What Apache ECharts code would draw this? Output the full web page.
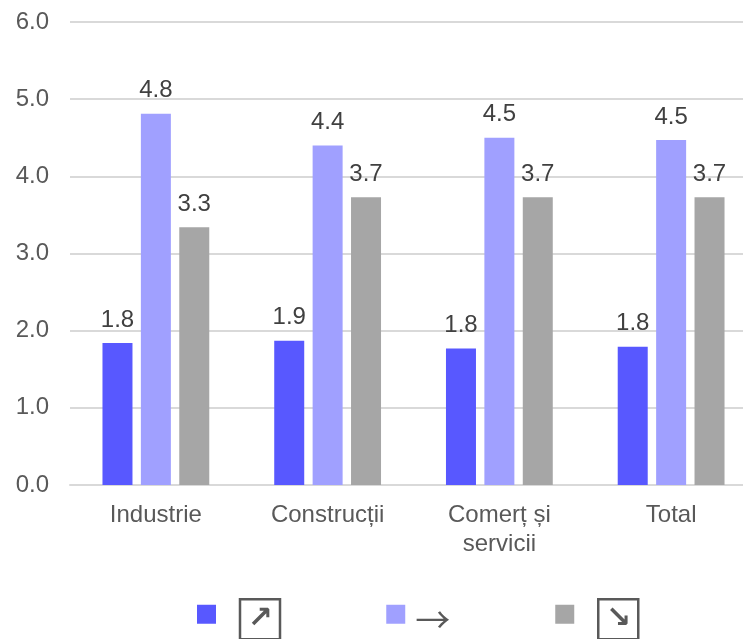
<!DOCTYPE html>
<html>
<head>
<meta charset="utf-8">
<script src="https://cdn.jsdelivr.net/npm/echarts@6/dist/echarts.min.js"></script>
<style>html,body{margin:0;padding:0;background:#fff;overflow:hidden;}#c{width:757px;height:639px;}</style>
</head>
<body>
<div id="c"></div>
<script>
const categories = ['Industrie', 'Construcții', 'Comerț și\nservicii', 'Total'];
const seriesNames = ['↗', '→', '↘'];
const upValues = [1.84, 1.87, 1.77, 1.79];
const flatValues = [4.81, 4.40, 4.50, 4.47];
const downValues = [3.34, 3.73, 3.73, 3.73];
const yTicks = { min: 0, max: 6, interval: 1 };

const colors = ['#5858FF', '#A0A0FF', '#A6A6A6'];
const FONT = '"Liberation Sans", Arial, sans-serif';

const chart = echarts.init(document.getElementById('c'), null, { renderer: 'canvas' });

function mkSeries(name, data, color) {
  return {
    name: name,
    type: 'bar',
    data: data,
    barWidth: 30,
    barGap: '28%',
    itemStyle: { color: color },
    label: {
      show: true,
      position: 'top',
      distance: 11,
      color: '#404040',
      fontSize: 24,
      fontFamily: FONT,
      formatter: p => p.value.toFixed(1)
    }
  };
}

chart.setOption({
  animation: false,
  grid: { left: 70, top: 22, right: 0, bottom: 154, containLabel: false },
  legend: {
    left: 197,
    top: 598,
    padding: 0,
    itemWidth: 19,
    itemHeight: 19,
    itemGap: 105,
    icon: 'rect',
    data: seriesNames,
    formatter: function (name) {
      if (name === '→') return '{sp2|}{arr|' + name + '}';
      return '{sp|}{box|' + name + '}';
    },
    textStyle: {
      fontFamily: FONT,
      color: '#595959',
      padding: [10, 0, 0, 0],
      rich: {
        sp: { width: 19 },
        sp2: { width: 5 },
        box: {
          width: 40, height: 40, lineHeight: 40, align: 'center',
          borderColor: '#595959', borderWidth: 2.5,
          fontSize: 30, fontWeight: 'bold', fontFamily: '"DejaVu Sans"', color: '#595959'
        },
        arr: { fontSize: 35, fontFamily: '"Noto Sans CJK SC"', color: '#595959' }
      }
    }
  },
  xAxis: {
    type: 'category',
    data: categories,
    axisTick: { show: false },
    axisLine: { lineStyle: { color: '#D9D9D9', width: 2 } },
    axisLabel: { color: '#595959', fontSize: 24, fontFamily: FONT, margin: 16, lineHeight: 29, interval: 0 }
  },
  yAxis: {
    type: 'value',
    min: yTicks.min,
    max: yTicks.max,
    interval: yTicks.interval,
    axisLine: { show: false },
    axisTick: { show: false },
    splitLine: { lineStyle: { color: '#D9D9D9', width: 2 } },
    axisLabel: { color: '#595959', fontSize: 24, fontFamily: FONT, margin: 21, formatter: v => v.toFixed(1) }
  },
  series: [
    mkSeries(seriesNames[0], upValues, colors[0]),
    mkSeries(seriesNames[1], flatValues, colors[1]),
    mkSeries(seriesNames[2], downValues, colors[2])
  ]
});
</script>
</body>
</html>
